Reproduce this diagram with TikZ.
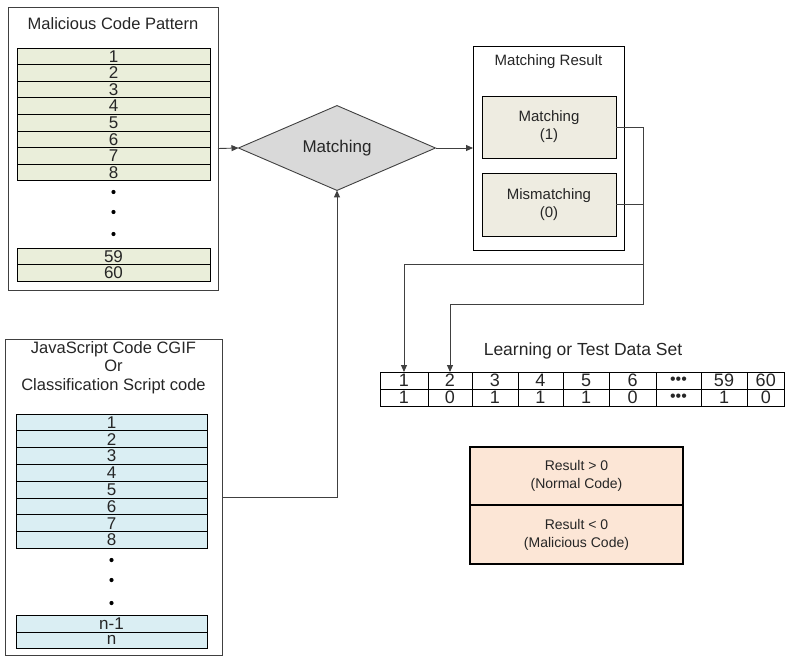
\documentclass[tikz,border=0pt]{standalone}
\usepackage{fontspec}
\setmainfont{Liberation Sans}
\usetikzlibrary{shapes.geometric,arrows.meta}
\definecolor{rowg}{HTML}{EAEEDA}
\definecolor{rowb}{HTML}{DAEEF3}
\definecolor{tanc}{HTML}{EEECE1}
\definecolor{peach}{HTML}{FCE6D6}
\definecolor{diag}{HTML}{D9D9D9}
\definecolor{txt}{HTML}{262626}
\definecolor{bordc}{HTML}{404040}
\begin{document}
\begin{tikzpicture}[x=1pt,y=-1pt,
  every node/.style={text=txt, inner sep=0pt, outer sep=0pt},
  outerbox/.style={draw=bordc, line width=1pt, rectangle, fill=white},
  prow/.style={draw=black, line width=0.8pt, fill=rowg, rectangle, minimum width=193pt, minimum height=16.6pt, font=\fontsize{17}{17}\selectfont},
  jrow/.style={draw=black, line width=0.8pt, fill=rowb, rectangle, minimum width=191pt, minimum height=16.8pt, font=\fontsize{17}{17}\selectfont},
  dotc/.style={circle, fill=black, minimum size=4.2pt},
  title/.style={font=\fontsize{16.5}{18.5}\selectfont, align=center},
  tanbox/.style={draw=black, line width=0.9pt, fill=tanc, rectangle, minimum width=134pt, align=center, font=\fontsize{15}{18}\selectfont},
  cell/.style={draw=black, line width=0.8pt, rectangle, minimum height=17pt, font=\fontsize{18}{17}\selectfont},
  resbox/.style={draw=black, line width=1.8pt, fill=peach, rectangle, minimum width=213pt, align=center, font=\fontsize{14}{18}\selectfont},
  conn/.style={draw=bordc, line width=0.9pt},
  arr/.style={conn, -{Triangle[length=7pt,width=6pt]}}
]
\useasboundingbox (0,0) rectangle (785,656);

% Malicious code pattern box
\node[outerbox, minimum width=210pt, minimum height=283pt] (mcp) at (113,148.5) {};
\node[title] (mcpt) at (113,24) {Malicious Code Pattern};
\foreach \i in {1,...,8} {
  \node[prow] (p\i) at (113.5,{48+16.6*(\i-0.5)}) {\i};
}
\node[dotc] (pd1) at (113.5,192) {};
\node[dotc] (pd2) at (113.5,212) {};
\node[dotc] (pd3) at (113.5,234) {};
\node[prow] (p59) at (113.5,256.3) {59};
\node[prow] (p60) at (113.5,272.9) {60};

% JavaScript box
\node[outerbox, minimum width=217pt, minimum height=316pt] (js) at (113.5,497) {};
\node[title] (jst) at (113.5,367.5) {JavaScript Code CGIF\\Or\\Classification Script code};
\foreach \i in {1,...,8} {
  \node[jrow] (j\i) at (111.5,{414+16.8*(\i-0.5)}) {\i};
}
\node[dotc] (jd1) at (111.5,560) {};
\node[dotc] (jd2) at (111.5,580) {};
\node[dotc] (jd3) at (111.5,603) {};
\node[jrow] (jn1) at (111.5,623.5) {n-1};
\node[jrow] (jn) at (111.5,640.3) {n};

% Diamond
\node[diamond, draw=bordc, line width=0.9pt, fill=diag, minimum width=197pt, minimum height=76pt, font=\fontsize{17}{17}\selectfont] (dia) at (337,148) {Matching};

% Matching result
\node[outerbox, draw=black, minimum width=151pt, minimum height=204pt] (mr) at (548.5,148) {};
\node[font=\fontsize{15}{16}\selectfont] (mrt) at (548.5,62) {Matching Result};
\node[tanbox, minimum height=62pt] (m1) at (549,127) {Matching\\(1)};
\node[tanbox, minimum height=63pt] (m0) at (549,204.5) {Mismatching\\(0)};

% Data set table
\node[font=\fontsize{17.5}{17}\selectfont] (dst) at (583,351) {Learning or Test Data Set};
\foreach \n/\l/\r/\a/\b in {1/380/428/1/1, 2/428/472/2/0, 3/472/518/3/1, 4/518/563/4/1, 5/563/609/5/1, 6/609/656/6/0, 7/656/701/{\fontsize{16}{16}\selectfont •••}/{\fontsize{16}{16}\selectfont •••}, 8/701/747/59/1, 9/747/784.5/60/0} {
  \node[cell, minimum width={(\r-\l)*1pt}] (t\n) at ({(\l+\r)/2},380.5) {\a};
  \node[cell, minimum width={(\r-\l)*1pt}] (b\n) at ({(\l+\r)/2},397.5) {\b};
}

% Result boxes
\node[resbox, minimum height=58pt] (r1) at (576.5,476) {Result > 0\\(Normal Code)};
\node[resbox, minimum height=59pt] (r2) at (576.5,534.5) {Result < 0\\(Malicious Code)};

% Connectors
\draw[arr] (mcp.east) -- (dia.west);
\draw[arr] (dia.east) -- (mr.west);
\draw[arr] (js.east) -| (dia.south);
\coordinate (c1) at (643,264);
\coordinate (c2) at (643,304);
\draw[arr] (m1.east) -| (c1) -| (t1.north);
\draw[arr] (m0.east) -| (c2) -| (t2.north);
\end{tikzpicture}
\end{document}
